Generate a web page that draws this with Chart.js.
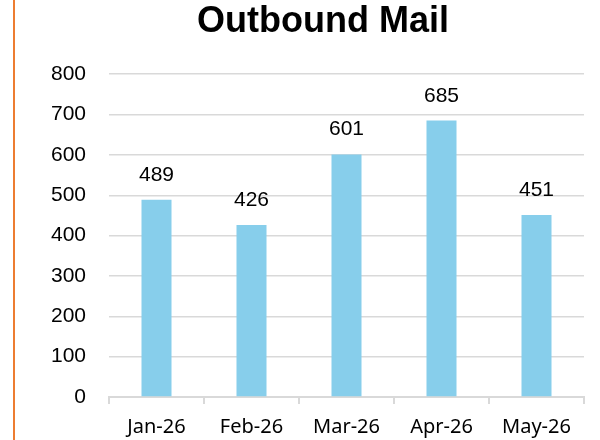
<!DOCTYPE html>
<html>
<head>
<meta charset="utf-8">
<script src="https://cdn.jsdelivr.net/npm/chart.js@4/dist/chart.umd.min.js"></script>
<style>
  html, body { margin: 0; padding: 0; background: #fff; }
  #wrap { position: relative; width: 600px; height: 440px; }
  #edge { position: absolute; left: 13px; top: 0; width: 2px; height: 440px; background: #ED7D31; }
  canvas { position: absolute; left: 0; top: 0; }
</style>
</head>
<body>
<div id="wrap">
  <canvas id="c" width="600" height="440"></canvas>
  <div id="edge"></div>
</div>
<script>
const categories = ["Jan-26", "Feb-26", "Mar-26", "Apr-26", "May-26"];
const mailValues = [489, 426, 601, 685, 451];
const yTickMin = 0, yTickMax = 800, yTickStep = 100;

const valueLabels = {
  id: 'valueLabels',
  afterDatasetsDraw(chart) {
    const ctx = chart.ctx;
    const meta = chart.getDatasetMeta(0);
    ctx.save();
    ctx.font = '21px "Liberation Sans", Arial, sans-serif';
    ctx.fillStyle = '#000';
    ctx.textAlign = 'center';
    ctx.textBaseline = 'alphabetic';
    meta.data.forEach((bar, i) => {
      ctx.fillText(String(chart.data.datasets[0].data[i]), bar.x, bar.y - 19);
    });
    ctx.restore();
  }
};

new Chart(document.getElementById('c'), {
  type: 'bar',
  data: {
    labels: categories,
    datasets: [{
      data: mailValues,
      backgroundColor: '#87CEEB',
      borderWidth: 0,
      barPercentage: 1,
      categoryPercentage: 0.316
    }]
  },
  options: {
    responsive: false,
    animation: false,
    events: [],
    layout: { padding: { left: 46, right: 0, top: 0, bottom: 0 } },
    plugins: {
      legend: { display: false },
      tooltip: { enabled: false },
      title: {
        display: true,
        text: 'Outbound Mail',
        color: '#000',
        font: { family: '"Liberation Sans", Arial, sans-serif', size: 36, weight: 'bold', lineHeight: 1.2 },
        padding: { top: 0, bottom: 31 }
      }
    },
    scales: {
      x: {
        afterFit(s) { s.height = 43; },
        grid: { display: true, drawOnChartArea: false, drawTicks: true, tickLength: 7, color: '#d9d9d9', lineWidth: 2, offset: true },
        border: { display: true, color: '#d9d9d9', width: 2 },
        ticks: { color: '#000', padding: 11, font: { family: '"Noto Sans", sans-serif', size: 20 } }
      },
      y: {
        min: yTickMin, max: yTickMax,
        afterFit(s) { s.width = 63; },
        grid: { color: '#d9d9d9', lineWidth: 1.5, drawTicks: false },
        border: { display: false },
        ticks: { stepSize: yTickStep, color: '#000', padding: 23, font: { family: '"Liberation Sans", Arial, sans-serif', size: 21 } }
      },
      yRightSpace: {
        type: 'linear',
        position: 'right',
        min: yTickMin, max: yTickMax,
        afterFit(s) { s.width = 16; },
        grid: { display: false, drawTicks: false },
        border: { display: false },
        ticks: { display: false }
      }
    }
  },
  plugins: [valueLabels]
});
</script>
</body>
</html>
